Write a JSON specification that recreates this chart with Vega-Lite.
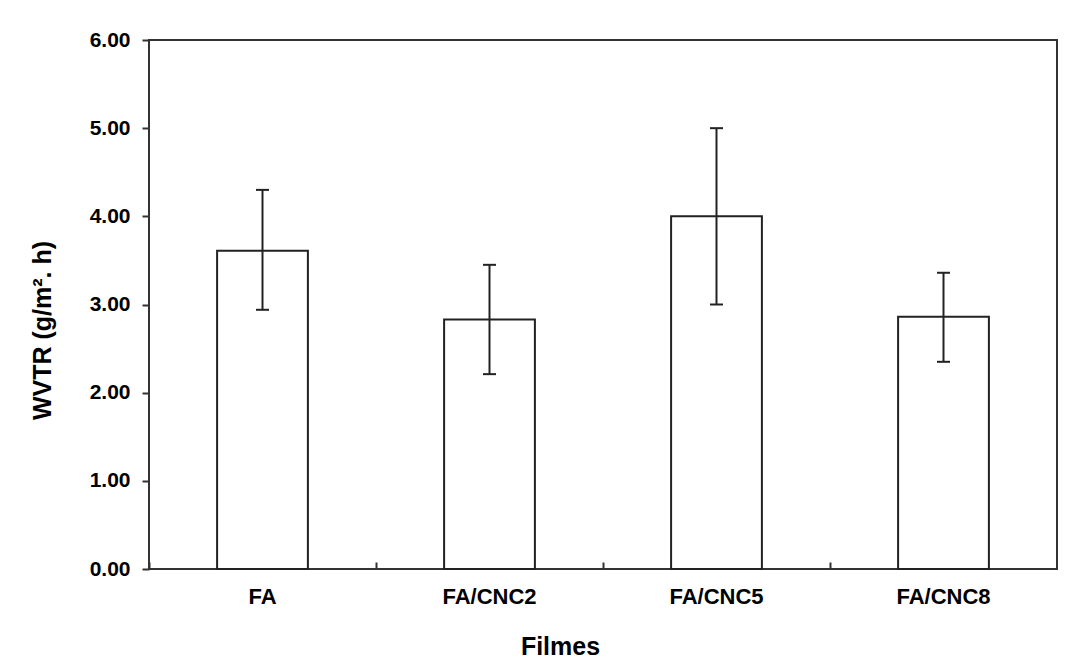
{
  "$schema": "https://vega.github.io/schema/vega-lite/v6.json",
  "width": 908,
  "height": 529,
  "autosize": "none",
  "padding": {"left": 149, "top": 40, "right": 11, "bottom": 102},
  "background": "white",
  "config": {
    "font": "Liberation Sans",
    "view": {"stroke": "#333333", "strokeWidth": 2}
  },
  "data": {
    "values": [
      {"film": "FA", "wvtr": 3.61, "lo": 2.94, "hi": 4.30},
      {"film": "FA/CNC2", "wvtr": 2.83, "lo": 2.21, "hi": 3.45},
      {"film": "FA/CNC5", "wvtr": 4.00, "lo": 3.00, "hi": 5.00},
      {"film": "FA/CNC8", "wvtr": 2.86, "lo": 2.35, "hi": 3.36}
    ]
  },
  "layer": [
    {
      "mark": {"type": "bar", "fill": "white", "stroke": "#222222", "strokeWidth": 2, "width": {"band": 0.4}},
      "encoding": {
        "x": {
          "field": "film", "type": "nominal", "sort": null,
          "scale": {"paddingInner": 0, "paddingOuter": 0},
          "axis": {
            "orient": "bottom",
            "ticks": false, "domain": false, "grid": false, "labelAngle": 0,
            "labelFont": "Liberation Sans", "labelFontSize": 22, "labelFontWeight": "bold",
            "labelColor": "#000000", "labelPadding": 17,
            "title": "Filmes", "titleFont": "Liberation Sans", "titleFontSize": 25,
            "titleFontWeight": "bold", "titleColor": "#000000",
            "titleX": 411, "titleY": 85, "titleBaseline": "alphabetic"
          }
        },
        "y": {
          "field": "wvtr", "type": "quantitative", "title": "WVTR (g/m². h)",
          "scale": {"domain": [0, 6], "nice": false, "zero": true},
          "axis": {
            "values": [0, 1, 2, 3, 4, 5, 6], "format": ".2f",
            "domain": false, "grid": false,
            "tickSize": 7, "tickWidth": 2, "tickColor": "#333333",
            "labelFont": "Liberation Sans", "labelFontSize": 21, "labelFontWeight": "bold",
            "labelColor": "#000000", "labelPadding": 12,
            "titleFont": "Liberation Sans", "titleFontSize": 25, "titleFontWeight": "bold",
            "titleColor": "#000000", "titleX": -99, "titleY": 290, "titleBaseline": "alphabetic"
          }
        }
      }
    },
    {
      "mark": {"type": "rule", "stroke": "#222222", "strokeWidth": 2},
      "encoding": {
        "x": {
          "field": "film", "type": "nominal", "sort": null,
          "axis": {
            "orient": "bottom",
            "labels": false, "title": null, "domain": false, "grid": false,
            "ticks": true, "bandPosition": 0, "tickSize": 7, "offset": -7,
            "tickWidth": 2, "tickColor": "#333333"
          }
        },
        "y": {"field": "lo", "type": "quantitative", "title": "WVTR (g/m². h)"},
        "y2": {"field": "hi"}
      }
    },
    {
      "mark": {"type": "tick", "color": "#222222", "thickness": 2, "size": 13, "opacity": 1},
      "encoding": {
        "x": {"field": "film", "type": "nominal", "sort": null, "axis": null},
        "y": {"field": "hi", "type": "quantitative", "title": "WVTR (g/m². h)"}
      }
    },
    {
      "mark": {"type": "tick", "color": "#222222", "thickness": 2, "size": 13, "opacity": 1},
      "encoding": {
        "x": {"field": "film", "type": "nominal", "sort": null, "axis": null},
        "y": {"field": "lo", "type": "quantitative", "title": "WVTR (g/m². h)"}
      }
    }
  ],
  "resolve": {"axis": {"x": "independent"}}
}
